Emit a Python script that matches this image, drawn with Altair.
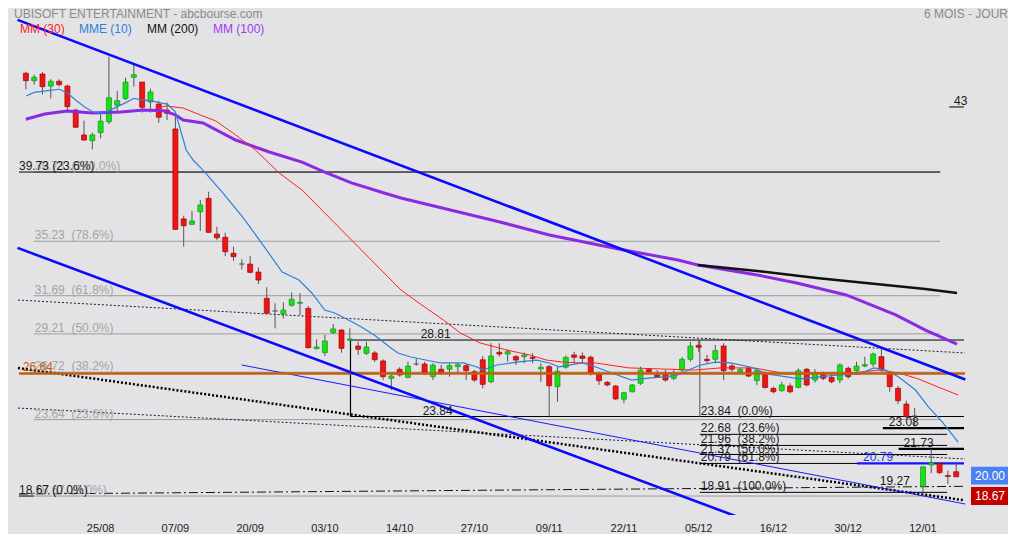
import altair as alt
import pandas as pd

FONT = "Liberation Sans, Arial, sans-serif"
BG = "#e3e3e6"

# ---------------- candles (daily OHLC) ----------------
opens = [46.15, 45.67, 46.10, 45.32, 45.63, 45.32, 43.76, 42.14, 41.77, 42.29,
         43.00, 44.07, 44.50, 45.89, 45.58, 44.28, 44.15, 43.76, 42.53, 36.68,
         36.33, 37.15, 38.02, 35.70, 35.49, 34.45, 33.75, 33.75, 33.23, 31.52,
         30.70, 30.50, 31.07, 31.20, 30.87, 28.25, 27.99, 29.29, 29.46, 28.80,
         28.42, 27.95, 27.97, 27.45, 26.32, 26.91, 26.38, 27.25, 27.25, 26.43,
         26.91, 26.91, 27.08, 27.14, 26.75, 27.53, 26.10, 28.01, 27.90, 27.73,
         27.73, 27.69, 26.93, 27.08, 25.78, 27.04, 27.84, 27.77, 27.69, 26.60,
         26.06, 25.82, 24.96, 25.45, 26.00, 26.91, 26.54, 26.65, 26.32, 26.86,
         27.56, 28.47, 27.56, 27.56, 28.42, 27.12, 26.75, 26.97, 26.17, 26.60,
         25.67, 25.52, 25.82, 25.73, 26.91, 26.21, 26.65, 26.38, 26.21, 26.97,
         26.82, 27.12, 27.25, 27.73, 26.69, 25.67, 24.65, 23.87, 19.30, 20.69,
         20.79, 20.00, 20.25]
highs = [46.25, 46.06, 46.23, 45.76, 45.76, 45.41, 43.85, 43.07, 42.29, 43.65,
         47.23, 45.00, 45.86, 46.69, 45.58, 45.15, 44.37, 44.24, 43.60, 36.89,
         37.20, 37.91, 38.45, 36.18, 35.79, 34.88, 34.06, 34.27, 33.53, 32.24,
         31.20, 31.26, 31.91, 31.85, 31.02, 28.86, 29.14, 29.85, 29.50, 29.57,
         28.70, 28.70, 28.10, 27.56, 26.65, 27.04, 27.40, 27.62, 27.40, 27.30,
         27.19, 27.30, 27.34, 27.30, 26.86, 27.77, 28.60, 28.60, 28.20, 27.84,
         28.00, 27.95, 27.30, 27.19, 27.08, 27.80, 28.05, 28.00, 27.80, 26.75,
         26.15, 25.89, 25.45, 25.95, 27.08, 27.00, 26.86, 26.86, 26.86, 27.70,
         28.70, 28.81, 27.84, 28.49, 28.60, 27.30, 27.00, 27.10, 26.91, 26.75,
         25.78, 26.10, 26.00, 26.97, 27.00, 26.91, 26.75, 26.60, 27.30, 27.10,
         27.40, 27.73, 27.99, 28.27, 26.75, 25.82, 24.87, 24.40, 20.60, 21.73,
         20.85, 20.32, 20.90]
lows = [45.11, 45.41, 44.76, 44.52, 45.28, 43.72, 42.60, 41.78, 41.20, 41.92,
        42.85, 43.65, 44.41, 45.28, 43.59, 43.59, 42.94, 43.11, 35.98, 34.88,
        36.30, 35.90, 35.78, 35.31, 34.27, 33.95, 33.40, 33.15, 32.45, 30.52,
        29.57, 30.20, 30.98, 30.44, 28.28, 28.20, 27.77, 29.20, 27.99, 28.75,
        27.84, 27.84, 27.38, 26.21, 25.56, 26.43, 26.32, 27.14, 26.54, 26.21,
        26.54, 26.43, 26.65, 26.21, 26.10, 25.67, 26.00, 27.73, 27.40, 27.19,
        27.30, 27.30, 26.10, 23.84, 24.80, 26.95, 27.30, 27.30, 26.50, 25.89,
        25.80, 24.92, 24.70, 25.40, 25.89, 26.60, 26.35, 26.10, 26.20, 26.70,
        27.40, 28.05, 27.30, 27.30, 26.21, 26.75, 26.60, 26.40, 25.89, 25.65,
        25.35, 25.45, 25.35, 25.67, 25.80, 26.04, 26.20, 26.00, 26.00, 26.30,
        26.75, 27.04, 27.08, 26.75, 25.45, 24.65, 23.72, 23.08, 18.67, 20.16,
        20.10, 19.45, 19.90]
closes = [45.67, 45.89, 45.28, 45.63, 45.41, 43.98, 42.64, 41.81, 42.14, 43.04,
          44.56, 44.37, 45.58, 46.06, 43.94, 44.93, 43.29, 43.55, 36.00, 36.24,
          36.55, 37.59, 35.81, 35.46, 34.55, 34.23, 33.75, 33.21, 32.71, 30.55,
          30.70, 30.76, 31.46, 31.26, 28.31, 28.36, 28.75, 29.53, 28.27, 28.88,
          28.21, 28.36, 27.53, 26.43, 26.47, 26.54, 27.12, 27.25, 26.60, 27.18,
          26.71, 27.14, 27.21, 26.82, 26.21, 25.93, 27.77, 27.90, 28.05, 27.51,
          27.84, 27.62, 27.04, 25.84, 26.78, 27.69, 27.69, 27.62, 26.65, 26.17,
          25.89, 24.98, 25.39, 25.89, 26.86, 26.75, 26.43, 26.21, 26.65, 27.56,
          28.42, 28.34, 27.47, 28.12, 26.82, 26.91, 26.91, 26.47, 26.82, 25.73,
          25.45, 25.89, 25.45, 26.82, 25.89, 26.65, 26.32, 26.10, 27.19, 26.43,
          27.12, 27.21, 27.90, 26.91, 25.78, 24.87, 23.82, 23.87, 20.57, 20.83,
          20.19, 19.94, 19.92]

# x axis: trading-day index of labelled sessions and their labels
date_ticks = [9, 18, 27, 36, 45, 54, 63, 72, 81, 90, 99, 108]
date_labels = ["25/08", "07/09", "20/09", "03/10", "14/10", "27/10",
               "09/11", "22/11", "05/12", "16/12", "30/12", "12/01"]
price_ticks = [18, 21, 24, 27, 30, 33, 36, 39, 42, 45, 48]

# ---------------- moving averages ----------------
mme10_i = [0.04, 0.99, 2.66, 4.05, 5.04, 5.99, 7.03, 8.02, 9.02, 10.04,
           11.0, 12.03, 13.02, 14.09, 15.01, 16.0, 17.04, 17.99, 19.3, 20.13,
           21.32, 23.71, 26.08, 28.12, 30.86, 32.88, 34.43, 35.98, 37.17, 38.84,
           40.39, 41.94, 43.96, 44.79, 46.34, 49.92, 52.66, 54.32, 55.04, 56.71,
           59.09, 61.47, 63.02, 64.21, 66.95, 68.62, 70.53, 72.91, 74.93, 76.96,
           78.51, 80.06, 81.25, 83.04, 84.82, 87.21, 89.23, 91.61, 93.16, 95.54,
           97.93, 100.31, 102.1, 103.53, 105.08, 107.1, 108.65, 110.32, 112.23]
mme10_v = [44.67, 44.91, 45.02, 45.11, 44.85, 44.41, 43.98, 43.65, 43.55, 43.72,
           43.98, 44.24, 44.52, 44.41, 44.37, 44.24, 44.15, 43.65, 41.16, 40.51,
           39.86, 38.37, 36.81, 35.31, 33.23, 32.71, 31.87, 30.76, 30.57, 30.11,
           29.66, 29.14, 28.29, 27.97, 27.71, 27.32, 27.32, 27.06, 26.86, 27.19,
           27.38, 27.51, 27.32, 27.06, 27.32, 27.06, 26.67, 26.21, 26.34, 26.41,
           26.54, 26.93, 27.19, 27.38, 27.32, 27.06, 26.60, 26.41, 26.28, 26.41,
           26.54, 26.60, 27.00, 26.86, 26.41, 25.56, 24.46, 23.49, 22.18]
mm30_i = [15.61, 16.92, 18.94, 21.32, 22.87, 25.26, 27.64, 30.5, 33.24, 35.98,
          38.36, 41.22, 43.6, 45.15, 47.53, 50.27, 52.3, 54.68, 57.9, 60.64,
          62.66, 64.57, 66.95, 68.62, 72.55, 76.48, 80.53, 83.63, 87.68, 91.61,
          95.54, 99.6, 102.69, 105.07, 107.46, 109.84, 112.23]
mm30_v = [43.89, 44.02, 43.89, 43.37, 43.05, 42.14, 41.16, 39.67, 38.56, 37.07,
          35.77, 34.21, 32.91, 32.06, 31.14, 30.11, 29.27, 28.62, 28.16, 27.84,
          27.51, 27.38, 27.32, 27.32, 27.00, 26.93, 26.86, 27.00, 27.00, 26.60,
          26.67, 26.67, 26.86, 26.67, 26.28, 25.75, 25.24]
mm100_i = [0.0, 2.26, 5.0, 7.98, 11.44, 14.18, 16.56, 17.99, 18.94, 21.32,
           25.26, 29.31, 33.24, 35.98, 39.2, 43.13, 45.15, 51.11, 57.07, 63.02,
           71.36, 78.51, 80.89, 88.04, 92.8, 98.76, 104.72, 108.29, 112.1]
mm100_v = [43.16, 43.50, 43.70, 43.57, 43.63, 43.76, 43.72, 43.44, 43.11, 42.92,
           41.81, 41.03, 40.38, 39.73, 39.02, 38.37, 38.04, 37.26, 36.48, 35.64,
           34.73, 34.01, 33.69, 33.04, 32.52, 31.74, 30.44, 29.46, 28.55]
mm200_i = [80.89, 88.04, 95.19, 102.33, 108.29, 112.1]
mm200_v = [33.69, 33.30, 32.84, 32.45, 32.13, 31.87]

# ---------------- drawn trend lines (start idx, start price, end idx, end price) ----------------
trend_i1 = [-1.0, -1.0, 25.97, -0.95, -0.95, -0.95, -0.83]
trend_p1 = [49.62, 34.80, 27.19, 26.99, 24.39, 31.41, 18.80]
trend_i2 = [113.1, 113.1, 113.1, 112.82, 113.06, 113.06, 112.82]
trend_p2 = [26.24, 11.79, 18.15, 18.41, 21.08, 27.97, 19.30]
trend_style = ["channel", "channel", "thin_blue", "dots_thick", "dots_thin", "dots_thin", "dashdot"]

# ---------------- horizontal levels (price, from idx, to idx, style) ----------------
level_price = [39.73, 35.23, 31.69, 29.21, 26.72, 23.64, 18.67,
               39.73, 18.67, 26.64, 28.81, 23.84,
               22.68, 21.96, 21.37, 20.79, 18.91,
               23.08, 21.73, 20.79, 43.96]
level_from = [0.95, 0.95, 0.95, 0.95, 0.95, 0.95, 0.95,
              -0.83, -0.83, -0.83, 39.08, 39.08,
              81.13, 81.13, 81.13, 81.13, 81.13,
              103.17, 105.07, 100.07, 111.15]
level_to = [110.07, 110.07, 110.07, 110.07, 110.07, 110.07, 110.07,
            110.07, 0.95, 113.06, 112.94, 112.94,
            110.91, 110.91, 110.91, 110.91, 110.91,
            112.94, 112.94, 112.94, 112.94]
level_style = ["grey"] * 7 + ["black", "black", "orange", "black", "black"] + \
              ["black"] * 5 + ["black_thick", "black_thick", "blue_thick", "black"]

# vertical edges of the 28.81 / 23.84 range box
vert_idx = [39.08, 81.13]
vert_low = [23.84, 23.84]
vert_high = [28.81, 28.81]
vert_color = ["#000000", "#6e6e6e"]

# ---------------- texts on the levels ----------------
SP = " \u00a0"
label_idx = [1.07, 1.07, 1.07, 1.07, 1.07, 1.07, 1.07,
             -0.83, -0.83, -0.36, 47.53, 47.77,
             81.25, 81.25, 81.25, 81.25, 81.25, 81.25,
             103.88, 105.67, 100.79, 102.81, 111.75]
label_price = [39.73, 35.23, 31.69, 29.21, 26.72, 23.64, 18.67,
               39.73, 18.67, 26.64, 28.81, 23.84,
               23.84, 22.68, 21.96, 21.37, 20.79, 18.91,
               23.08, 21.73, 20.79, 19.27, 43.96]
label_text = ["39.73" + SP + "(100.0%)", "35.23" + SP + "(78.6%)", "31.69" + SP + "(61.8%)",
              "29.21" + SP + "(50.0%)", "26.72" + SP + "(38.2%)", "23.64" + SP + "(23.6%)",
              "18.67" + SP + "(0.0%)",
              "39.73 (23.6%)", "18.67 (0.0%)", "26.64", "28.81", "23.84",
              "23.84" + SP + "(0.0%)", "22.68" + SP + "(23.6%)", "21.96" + SP + "(38.2%)",
              "21.37" + SP + "(50.0%)", "20.79" + SP + "(61.8%)", "18.91" + SP + "(100.0%)",
              "23.08", "21.73", "20.79", "19.27", "43"]
label_style = ["grey"] * 7 + ["black", "black", "orange", "black", "black"] + \
              ["black"] * 6 + ["black", "black", "blue", "black", "black"]

# price tags on the right axis
tag_price = [20.00, 18.67]
tag_color = ["#4a82f4", "#c10000"]

legend_names = ["MM (30)", "MME (10)", "MM (200)", "MM (100)"]
legend_colors = ["#ff2020", "#2f7fd8", "#111111", "#9a3cf2"]
legend_x = [12, 71, 139, 205]

TITLE = "UBISOFT ENTERTAINMENT - abcbourse.com"
PERIOD = "6 MOIS - JOUR"

# ---------------- scales ----------------
XDOM = [-1.549, 113.06]
YDOM = [17.438, 50.392]
W, H = 962, 507


def X(field="i", axis=None):
    return alt.X(f"{field}:Q", scale=alt.Scale(domain=XDOM, nice=False, zero=False), axis=axis)


def Y(field, axis=None):
    return alt.Y(f"{field}:Q", scale=alt.Scale(domain=YDOM, nice=False, zero=False), axis=axis)


n = len(opens)
kind = ["up" if c > o else ("down" if c < o else "flat") for o, c in zip(opens, closes)]
candles = pd.DataFrame({"i": list(range(n)), "open": opens, "high": highs,
                        "low": lows, "close": closes, "kind": kind})

layers = []

# horizontal levels
lv = pd.DataFrame({"p": level_price, "i1": level_from, "i2": level_to, "s": level_style})
level_styles = {"grey": ("#9c9c9c", 1), "black": ("#000000", 1), "orange": ("#c2600e", 2.5),
                "black_thick": ("#000000", 2.2), "blue_thick": ("#1414ff", 2.2)}
for s in ["grey", "black", "black_thick", "blue_thick"]:
    d = lv[lv.s == s]
    layers.append(alt.Chart(d).mark_rule(color=level_styles[s][0], strokeWidth=level_styles[s][1], clip=True)
                  .encode(x=X("i1"), x2="i2:Q", y=Y("p")))

vv = pd.DataFrame({"i": vert_idx, "lo": vert_low, "hi": vert_high, "c": vert_color})
layers.append(alt.Chart(vv).mark_rule(strokeWidth=1.2, clip=True)
              .encode(x=X("i"), y=Y("lo"), y2="hi:Q", color=alt.Color("c:N", scale=None)))

# trend lines
tr = pd.DataFrame({"i1": trend_i1, "p1": trend_p1, "i2": trend_i2, "p2": trend_p2, "s": trend_style})
trend_styles = {
    "dots_thin": dict(color="#1a1a2a", strokeWidth=1, strokeDash=[2, 2]),
    "dashdot": dict(color="#111111", strokeWidth=1, strokeDash=[9, 3, 2, 3]),
    "dots_thick": dict(color="#000000", strokeWidth=2.5, strokeDash=[2, 2]),
    "thin_blue": dict(color="#1a1aff", strokeWidth=1),
}
for s, kw in trend_styles.items():
    d = tr[tr.s == s]
    layers.append(alt.Chart(d).mark_rule(clip=True, **kw)
                  .encode(x=X("i1"), x2="i2:Q", y=Y("p1"), y2="p2:Q"))

# candles: wicks then bodies (the bodies layer carries the price axis)
y_axis = alt.Axis(values=price_ticks, format=".2f", orient="right", domain=False, ticks=False,
                  grid=False, labelFontSize=12, labelColor="#222222", labelPadding=6,
                  labelFlush=False, labelOverlap=False, title=None, labelFont=FONT)
layers.append(alt.Chart(candles).mark_rule(color="#555555", strokeWidth=1, clip=True)
              .encode(x=X("i"), y=Y("low"), y2="high:Q"))
layers.append(alt.Chart(candles).mark_bar(size=5, strokeWidth=0.7, clip=True)
              .encode(x=X("i"), y=Y("open", y_axis), y2="close:Q",
                      fill=alt.Fill("kind:N", scale=alt.Scale(domain=["up", "down", "flat"],
                                                              range=["#19e019", "#ee1515", "#666666"]), legend=None),
                      stroke=alt.Stroke("kind:N", scale=alt.Scale(domain=["up", "down", "flat"],
                                                                  range=["#0e9a0e", "#a80000", "#555555"]), legend=None)))

# date labels under the plot, placed through the x scale
dl = pd.DataFrame({"i": date_ticks, "t": date_labels})
layers.append(alt.Chart(dl).mark_text(align="center", baseline="middle", fontSize=11, font=FONT,
                                      color="#222222", clip=False)
              .encode(x=X("i"), y=alt.value(H + 14), text="t:N"))

# moving averages
for xs, vs, color, w in [(mm100_i, mm100_v, "#8a2be2", 3), (mm200_i, mm200_v, "#111111", 2.5),
                         (mm30_i, mm30_v, "#ff2020", 1), (mme10_i, mme10_v, "#2f7fd8", 1.2)]:
    d = pd.DataFrame({"i": xs, "p": vs})
    layers.append(alt.Chart(d).mark_line(color=color, strokeWidth=w, clip=True)
                  .encode(x=X("i"), y=Y("p")))

# orange level and thick channel lines on top
layers.append(alt.Chart(lv[lv.s == "orange"]).mark_rule(color=level_styles["orange"][0],
                                                       strokeWidth=level_styles["orange"][1], clip=True)
              .encode(x=X("i1"), x2="i2:Q", y=Y("p")))
layers.append(alt.Chart(tr[tr.s == "channel"]).mark_rule(color="#0a0aff", strokeWidth=2.6, clip=True)
              .encode(x=X("i1"), x2="i2:Q", y=Y("p1"), y2="p2:Q"))

# level texts
lb = pd.DataFrame({"i": label_idx, "p": label_price, "t": label_text, "s": label_style})
label_colors = {"grey": "#a3a3a3", "black": "#1a1a1a", "orange": "#c2600e", "blue": "#2233ee"}
for s in ["grey", "black", "orange", "blue"]:
    d = lb[lb.s == s]
    layers.append(alt.Chart(d).mark_text(align="left", baseline="middle", dy=-6, fontSize=12,
                                         font=FONT, color=label_colors[s])
                  .encode(x=X("i"), y=Y("p"), text="t:N"))

# price tags
tg = pd.DataFrame({"p": tag_price, "top": [v + 0.58 for v in tag_price],
                   "bot": [v - 0.58 for v in tag_price], "c": tag_color,
                   "t": [f"{v:.2f}" for v in tag_price]})
layers.append(alt.Chart(tg).mark_rect(clip=False)
              .encode(x=alt.value(W + 1), x2=alt.value(W + 38), y=Y("top"), y2="bot:Q",
                      color=alt.Color("c:N", scale=None)))
layers.append(alt.Chart(tg).mark_text(align="left", baseline="middle", fontSize=12, font=FONT,
                                      color="white", clip=False)
              .encode(x=alt.value(W + 5), y=Y("p"), text="t:N"))

# title, period and legend
layers.append(alt.Chart(pd.DataFrame({"t": [TITLE]})).mark_text(
    align="left", baseline="middle", fontSize=12, font=FONT, color="#8a8a8a")
    .encode(x=alt.value(6), y=alt.value(6), text="t:N"))
layers.append(alt.Chart(pd.DataFrame({"t": [PERIOD]})).mark_text(
    align="right", baseline="middle", fontSize=12, font=FONT, color="#8a8a8a")
    .encode(x=alt.value(1000), y=alt.value(6), text="t:N"))
for name, color, lx in zip(legend_names, legend_colors, legend_x):
    layers.append(alt.Chart(pd.DataFrame({"t": [name]})).mark_text(
        align="left", baseline="middle", fontSize=12, font=FONT, color=color)
        .encode(x=alt.value(lx), y=alt.value(21), text="t:N"))

chart = alt.layer(*layers).properties(width=W, height=H, padding=0).configure(
    background=BG, font=FONT).configure_view(stroke=None)

chart.save("out.html", embed_options={"renderer": "svg", "actions": False})
